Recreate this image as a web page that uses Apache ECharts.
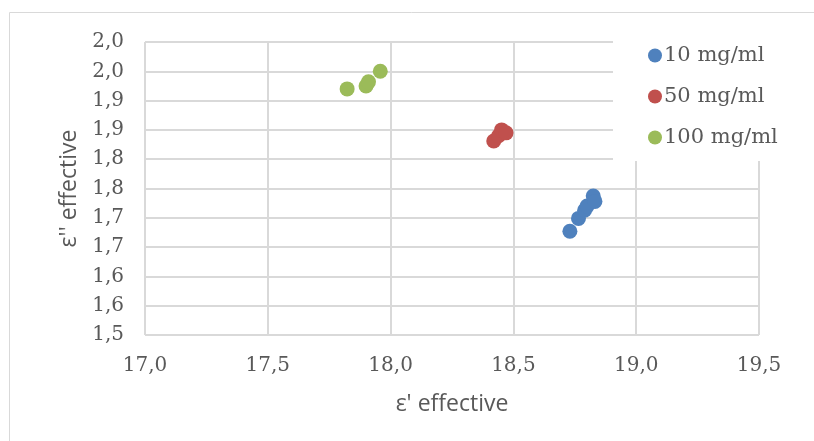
<!DOCTYPE html>
<html>
<head>
<meta charset="utf-8">
<script src="https://cdn.jsdelivr.net/npm/echarts@6/dist/echarts.min.js"></script>
<style>html,body{margin:0;padding:0;background:#fff}#c{width:814px;height:441px}</style>
</head>
<body>
<div id="c"></div>
<script>
const seriesNames = ['10 mg/ml', '50 mg/ml', '100 mg/ml'];
const s10 = [[18.73, 1.677], [18.765, 1.699], [18.79, 1.713], [18.80, 1.72], [18.825, 1.737], [18.832, 1.728]];
const s50 = [[18.42, 1.831], [18.44, 1.840], [18.452, 1.850], [18.47, 1.845]];
const s100 = [[17.823, 1.920], [17.90, 1.925], [17.91, 1.932], [17.958, 1.950]];
const xTickLabels = ['17,0', '17,5', '18,0', '18,5', '19,0', '19,5'];
const yTickLabels = ['1,5', '1,6', '1,6', '1,7', '1,7', '1,8', '1,8', '1,9', '1,9', '2,0', '2,0'];
const colors = ['#4F81BD', '#C0504D', '#9BBB59'];

const chart = echarts.init(document.getElementById('c'));
const tickFont = { fontFamily: 'DejaVu Serif', fontSize: 20, color: '#595959' };
chart.setOption({
  animation: false,
  grid: { left: 145, right: 55, top: 42, bottom: 106 },
  graphic: [
    { type: 'polyline', z: 0, shape: { points: [[9.5, 441], [9.5, 12.5], [814, 12.5]] }, style: { stroke: '#d9d9d9', lineWidth: 1, fill: null } },
    { type: 'rect', z: 3, shape: { x: 613, y: 28, width: 190, height: 133 }, style: { fill: '#fff' } }
  ],
  legend: {
    z: 5,
    orient: 'vertical', left: 643, top: 40, itemGap: 20,
    icon: 'circle', itemWidth: 14, itemHeight: 14,
    textStyle: { fontFamily: 'DejaVu Serif', fontSize: 21, color: '#595959', padding: [0, 0, 0, -3] },
    data: seriesNames
  },
  xAxis: {
    type: 'value', min: 17, max: 19.5, interval: 0.5,
    name: "ε' effective", nameLocation: 'middle', nameGap: 58,
    nameTextStyle: { fontFamily: 'Open Sans', fontSize: 23, color: '#595959' },
    axisLine: { show: false }, axisTick: { show: false },
    splitLine: { show: true, lineStyle: { color: '#d9d9d9', width: 2 } },
    axisLabel: Object.assign({ margin: 21, formatter: v => xTickLabels[Math.round((v - 17) / 0.5)] }, tickFont)
  },
  yAxis: {
    type: 'value', min: 1.5, max: 2.0, interval: 0.05,
    name: "ε'' effective", nameLocation: 'middle', nameGap: 45,
    nameTextStyle: { fontFamily: 'Open Sans', fontSize: 23, color: '#595959' },
    axisLine: { show: false }, axisTick: { show: false },
    splitLine: { show: true, lineStyle: { color: '#d9d9d9', width: 2 } },
    axisLabel: Object.assign({ margin: 21, formatter: v => yTickLabels[Math.round((v - 1.5) / 0.05)] }, tickFont)
  },
  series: [s10, s50, s100].map((d, i) => ({
    type: 'scatter', name: seriesNames[i], data: d, symbolSize: 15,
    itemStyle: { color: colors[i], opacity: 1 }
  }))
});
</script>
</body>
</html>
